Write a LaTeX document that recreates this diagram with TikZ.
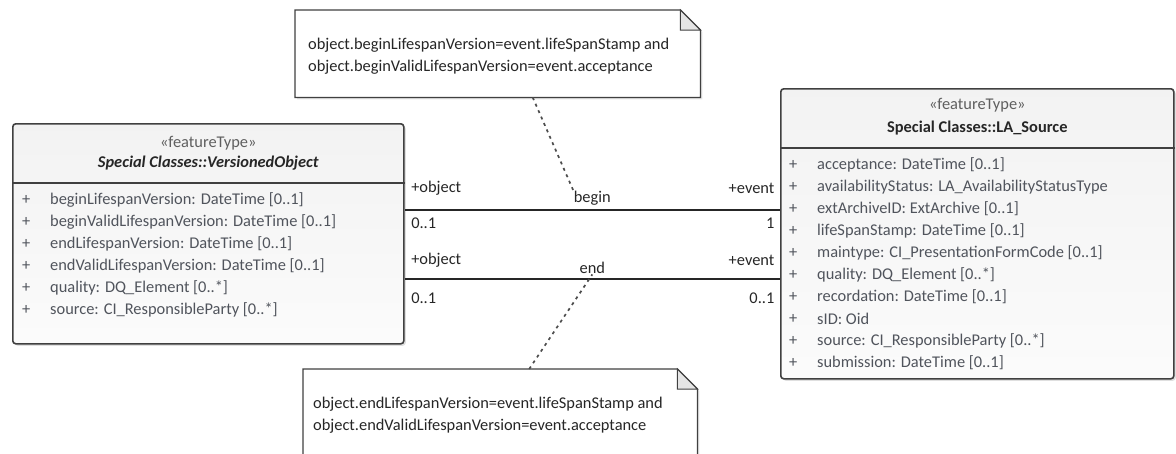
\documentclass[tikz,border=0pt]{standalone}
\usepackage{fontspec}
\setmainfont{Carlito}
\usetikzlibrary{shadows}
\definecolor{attrgray}{RGB}{80,84,92}
\definecolor{stereo}{RGB}{95,95,95}

\begin{document}
\begin{tikzpicture}
[x=1pt,y=-1pt,font=\fontsize{16.4}{18}\selectfont,
 classbox/.style={draw=black!75,line width=1.6pt,rounded corners=3pt,top color=gray!10,bottom color=gray!3,anchor=north west,inner sep=0pt,drop shadow={opacity=0.25,shadow xshift=2pt,shadow yshift=-2pt}},
 sepline/.style={draw=black!75,line width=1.6pt},
 notebox/.style={anchor=north west,inner sep=0pt},
 noteline/.style={draw=black!75,line width=1.3pt,fill=white,drop shadow={opacity=0.2,shadow xshift=2pt,shadow yshift=-2pt}},
 fold/.style={draw=black!75,line width=1pt,fill=gray!20},
 notetext/.style={anchor=west,align=left,inner sep=0pt,text=black!85,font=\fontsize{16.4}{22}\selectfont},
 attr/.style={anchor=west,inner sep=0pt,text=attrgray},
 lbl/.style={inner sep=0pt,text=black!85},
 assoc/.style={line width=1.3pt,black!85},
 link/.style={line width=1.7pt,black!70,dash pattern=on 3pt off 4pt}]
\useasboundingbox (0,0) rectangle (1176,453);

% VersionedObject
\node[classbox,minimum width=391,minimum height=220] (vo) at (12,123) {};
\draw[sepline] ([yshift=-60]vo.north west) -- ([yshift=-60]vo.north east);
\node[lbl,text=stereo] (vost) at ([yshift=-20]vo.north) {«featureType»};
\node[lbl,font=\fontsize{16.4}{18}\selectfont\bfseries\itshape] (voname) at ([yshift=-40]vo.north) {Special Classes::VersionedObject};
\foreach \a [count=\i] in {{beginLifespanVersion: DateTime [0..1]},{beginValidLifespanVersion: DateTime [0..1]},
  {endLifespanVersion: DateTime [0..1]},{endValidLifespanVersion: DateTime [0..1]},
  {quality: DQ\_Element [0..*]},{source: CI\_ResponsibleParty [0..*]}}
{
\node[attr] (vop\i) at (22,178+22*\i) {+};
\node[attr] (vo\i) at (50,178+22*\i) {\a};
}

% LA_Source
\node[classbox,minimum width=393,minimum height=290] (src) at (780,88) {};
\draw[sepline] ([yshift=-60]src.north west) -- ([yshift=-60]src.north east);
\node[lbl,text=stereo] (srcst) at ([yshift=-17]src.north) {«featureType»};
\node[lbl,font=\fontsize{16.4}{18}\selectfont\bfseries] (srcname) at ([yshift=-40]src.north) {Special Classes::LA\_Source};
\foreach \a [count=\i] in {{acceptance: DateTime [0..1]},{availabilityStatus: LA\_AvailabilityStatusType},
  {extArchiveID: ExtArchive [0..1]},{lifeSpanStamp: DateTime [0..1]},
  {maintype: CI\_PresentationFormCode [0..1]},{quality: DQ\_Element [0..*]},
  {recordation: DateTime [0..1]},{sID: Oid},{source: CI\_ResponsibleParty [0..*]},
  {submission: DateTime [0..1]}}
{
\node[attr] (srcp\i) at (789,143+22*\i) {+};
\node[attr] (src\i) at (817,143+22*\i) {\a};
}

% associations
\coordinate (ab) at (0,210);
\coordinate (ae) at (0,279);
\draw[assoc] (vo.east |- ab) -- (src.west |- ab)
  node[lbl,pos=0,anchor=west,xshift=6,yshift=22] (bobj) {+object}
  node[lbl,pos=0,anchor=west,xshift=6,yshift=-13] (bobjm) {0..1}
  node[lbl,pos=1,anchor=east,xshift=-5,yshift=22] (bevt) {+event}
  node[lbl,pos=1,anchor=east,xshift=-5,yshift=-13] (bevtm) {1}
  node[lbl,pos=0.5,yshift=12] (beginlbl) {begin};
\draw[assoc] (vo.east |- ae) -- (src.west |- ae)
  node[lbl,pos=0,anchor=west,xshift=6,yshift=19] (eobj) {+object}
  node[lbl,pos=0,anchor=west,xshift=6,yshift=-19] (eobjm) {0..1}
  node[lbl,pos=1,anchor=east,xshift=-5,yshift=19] (eevt) {+event}
  node[lbl,pos=1,anchor=east,xshift=-5,yshift=-19] (eevtm) {0..1}
  node[lbl,pos=0.5,yshift=11] (endlbl) {end};

% notes
\node[notebox,minimum width=405,minimum height=87] (n1) at (295,10) {};
\path[noteline] (n1.north west) -- ([xshift=-20]n1.north east) -- ([yshift=-20]n1.north east)
  -- (n1.south east) -- (n1.south west) -- cycle;
\draw[fold] ([xshift=-20]n1.north east) |- ([yshift=-20]n1.north east) -- cycle;
\node[notetext] (n1t) at (308,56) {object.beginLifespanVersion=event.lifeSpanStamp and\\object.beginValidLifespanVersion=event.acceptance};

\node[notebox,minimum width=394,minimum height=110] (n2) at (303,369) {};
\path[noteline] (n2.north west) -- ([xshift=-20]n2.north east) -- ([yshift=-20]n2.north east)
  -- (n2.south east) -- (n2.south west) -- cycle;
\draw[fold] ([xshift=-20]n2.north east) |- ([yshift=-20]n2.north east) -- cycle;
\node[notetext] (n2t) at (313,415) {object.endLifespanVersion=event.lifeSpanStamp and\\object.endValidLifespanVersion=event.acceptance};

\draw[link] ([xshift=35]n1.south) -- (beginlbl.north west);
\draw[link] ([xshift=29]n2.north) -- (endlbl.south);
\end{tikzpicture}
\end{document}
